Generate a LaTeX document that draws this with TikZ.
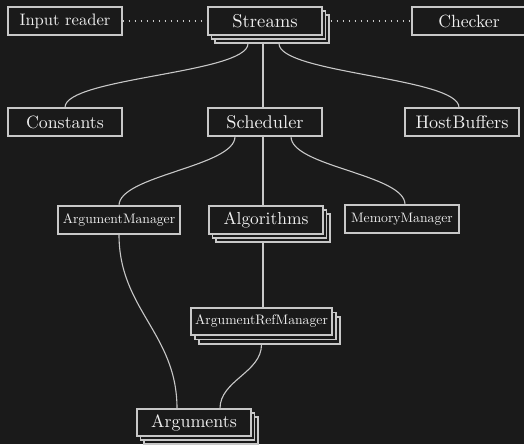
\documentclass[tikz,border=0pt]{standalone}
\usepackage{graphicx}
\usetikzlibrary{calc}
\definecolor{bg}{HTML}{1A1A1A}
\definecolor{ln}{HTML}{C8C8C8}
\definecolor{tx}{HTML}{F0F0F0}
% labels are set in the 10pt design and then enlarged
\newcommand\biglabel[2][1.8]{\scalebox{#1}{#2}}
\newcommand\smalllabel[1]{\scalebox{1.37}{#1}}
\begin{document}
\begin{tikzpicture}[x=1pt,y=1pt,
  box/.style={draw=ln, fill=bg, line width=1.1pt, text=tx, inner sep=0pt,
    minimum height=28pt, font=\fontsize{10}{12}\selectfont},
  link/.style={draw=ln, line width=1.1pt},
  dots/.style={draw=ln, line width=1.1pt, dash pattern=on 1.1pt off 4.9pt}]
\fill[bg] (0,0) rectangle (524,444);
\begin{scope}
\clip (0,0) rectangle (524,444);

% top row
\node[box, minimum width=114pt] (inp) at (65,423) {\biglabel[1.66]{Input reader}};
\node[box, minimum width=114pt] (strB) at (272,415) {};
\node[box, minimum width=114pt] (strA) at (268.5,419) {};
\node[box, minimum width=114pt] (str) at (265,423) {\biglabel[1.86]{Streams}};
\node[box, minimum width=122pt] (chk) at (473,423) {\hspace*{-8pt}\biglabel[1.77]{Checker}};

% second row
\node[box, minimum width=114pt] (con) at (65,322) {\biglabel[1.78]{Constants}};
\node[box, minimum width=114pt] (sch) at (265,322) {\biglabel[1.84]{Scheduler}};
\node[box, minimum width=114pt] (hb) at (462,322) {\biglabel[1.82]{HostBuffers}};

% third row
\node[box, minimum width=122pt] (am) at (119,224) {\smalllabel{ArgumentManager}};
\node[box, minimum width=114pt] (algB) at (273,216) {};
\node[box, minimum width=114pt] (algA) at (269.5,220) {};
\node[box, minimum width=114pt] (alg) at (266,224) {\biglabel[1.74]{Algorithms}};
\node[box, minimum width=114pt] (mm) at (402,225) {\smalllabel{MemoryManager}};

% fourth row
\node[box, minimum width=141pt, minimum height=27pt] (armB) at (269.5,113.5) {};
\node[box, minimum width=141pt, minimum height=27pt] (armA) at (265.5,118) {};
\node[box, minimum width=141pt, minimum height=27pt] (arm) at (261.5,122.5) {\smalllabel{ArgumentRefManager}};

% bottom
\node[box, minimum width=114pt, minimum height=27pt] (argsB) at (201,13.5) {};
\node[box, minimum width=114pt, minimum height=27pt] (argsA) at (197.5,17.5) {};
\node[box, minimum width=114pt, minimum height=27pt] (args) at (194,21.5) {\biglabel[1.79]{Arguments}};

% dotted links
\path[dots] (inp.east) -- (str.west);
\path[dots] ($(strB.east)+(1,8)$) -- (chk.west);

% Streams fan-out
\path[link] ($(strB.south)+(-24,0)$) .. controls +(0,-30) and +(0,30) .. (con.north);
\path[link] ($(strB.south)+(-9,0)$) -- ($(sch.north)+(-2,0)$);
\path[link] ($(strB.south)+(7,0)$) .. controls +(0,-30) and +(0,30) .. ($(hb.north)+(-3,0)$);

% Scheduler fan-out
\path[link] ($(sch.south)+(-30,0)$) .. controls +(0,-30) and +(0,30) .. (am.north);
\path[link] ($(sch.south)+(-2,0)$) -- ($(alg.north)+(-3,0)$);
\path[link] ($(sch.south)+(26,0)$) .. controls +(0,-30) and +(0,30) .. ($(mm.north)+(3,0)$);

% lower links
\path[link] ($(algB.south)+(-10,0)$) -- ($(arm.north)+(1.5,0)$);
\path[link] (am.south) .. controls +(0,-75) and +(0,75) .. ($(args.north)+(-17,0)$);
\path[link] ($(armB.south)+(-8,0)$) .. controls +(0,-28) and +(0,28) .. ($(args.north)+(26,0)$);
\end{scope}
\useasboundingbox (0,0) rectangle (524,444);
\end{tikzpicture}
\end{document}
